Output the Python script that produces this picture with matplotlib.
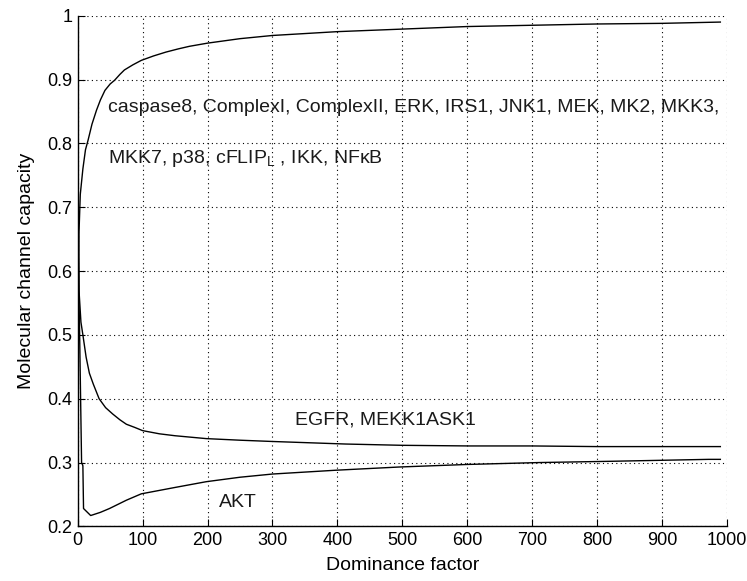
import matplotlib
matplotlib.use("Agg")
import matplotlib.pyplot as plt

plt.rcParams['font.family'] = ['Liberation Sans', 'DejaVu Sans']
plt.rcParams['mathtext.default'] = 'regular'

# curve: caspase8 ... NFkB group
top_x = [1, 2, 4, 8, 12, 16, 22, 29, 35, 42, 50, 57, 65, 72, 85, 98, 117, 136,
         155, 172, 200, 250, 300, 400, 500, 600, 700, 800, 900, 990]
top_y = [0.52, 0.66, 0.72, 0.76, 0.79, 0.805, 0.83, 0.852, 0.868, 0.883, 0.893,
         0.899, 0.908, 0.915, 0.923, 0.93, 0.937, 0.943, 0.948, 0.952, 0.957,
         0.964, 0.969, 0.975, 0.979, 0.983, 0.985, 0.987, 0.988, 0.99]

# EGFR, MEKK1ASK1
mid_x = [1, 2, 5, 8, 13, 18, 24, 33, 43, 54, 65, 75, 88, 100, 126, 150, 198,
         250, 300, 413, 500, 603, 700, 800, 990]
mid_y = [0.66, 0.57, 0.52, 0.5, 0.465, 0.44, 0.423, 0.40, 0.386, 0.376, 0.367,
         0.36, 0.355, 0.35, 0.345, 0.342, 0.3375, 0.335, 0.333, 0.329, 0.327,
         0.326, 0.326, 0.325, 0.325]

# AKT
akt_x = [1, 3, 6, 8, 9, 20, 35, 49, 75, 98, 150, 198, 250, 300, 398, 495, 600,
         711, 823, 972, 990]
akt_y = [0.62, 0.5, 0.3, 0.295, 0.228, 0.217, 0.222, 0.228, 0.241, 0.251,
         0.261, 0.27, 0.277, 0.282, 0.288, 0.293, 0.297, 0.3, 0.302, 0.305, 0.305]

x_ticks = list(range(0, 1001, 100))
y_ticks = [0.2, 0.3, 0.4, 0.5, 0.6, 0.7, 0.8, 0.9, 1.0]
y_ticklabels = ['0.2', '0.3', '0.4', '0.5', '0.6', '0.7', '0.8', '0.9', '1']

labels = [
    (46, 0.856, "caspase8, ComplexI, ComplexII, ERK, IRS1, JNK1, MEK, MK2, MKK3,"),
    (46, 0.776, "MKK7, p38, cFLIP$_{L}$ , IKK, NFκB"),
    (334, 0.367, "EGFR, MEKK1ASK1"),
    (218, 0.237, "AKT"),
]

fig = plt.figure(figsize=(7.47, 5.81), dpi=100)
ax = fig.add_axes([0.104, 0.094, 0.869, 0.879])

for xs, ys in [(top_x, top_y), (mid_x, mid_y), (akt_x, akt_y)]:
    ax.plot(xs, ys, color='black', lw=1.0)

for x, y, s in labels:
    ax.text(x, y, s, fontsize=14, va='center', ha='left', color='#1a1a1a')

ax.set_xlim(0, 1000)
ax.set_ylim(0.2, 1.0)
ax.set_xticks(x_ticks)
ax.set_yticks(y_ticks)
ax.set_yticklabels(y_ticklabels)
ax.tick_params(direction='in', length=5, labelsize=13, colors='black', pad=4)
ax.grid(True, linestyle=(0, (1, 3)), color='black', lw=0.8)
for side in ['top', 'right']:
    ax.spines[side].set_visible(False)
for side in ['left', 'bottom']:
    ax.spines[side].set_linewidth(1.0)

ax.set_xlabel('Dominance factor', fontsize=14, labelpad=6)
ax.set_ylabel('Molecular channel capacity', fontsize=14, labelpad=9)

fig.savefig('out.png', dpi=100)
